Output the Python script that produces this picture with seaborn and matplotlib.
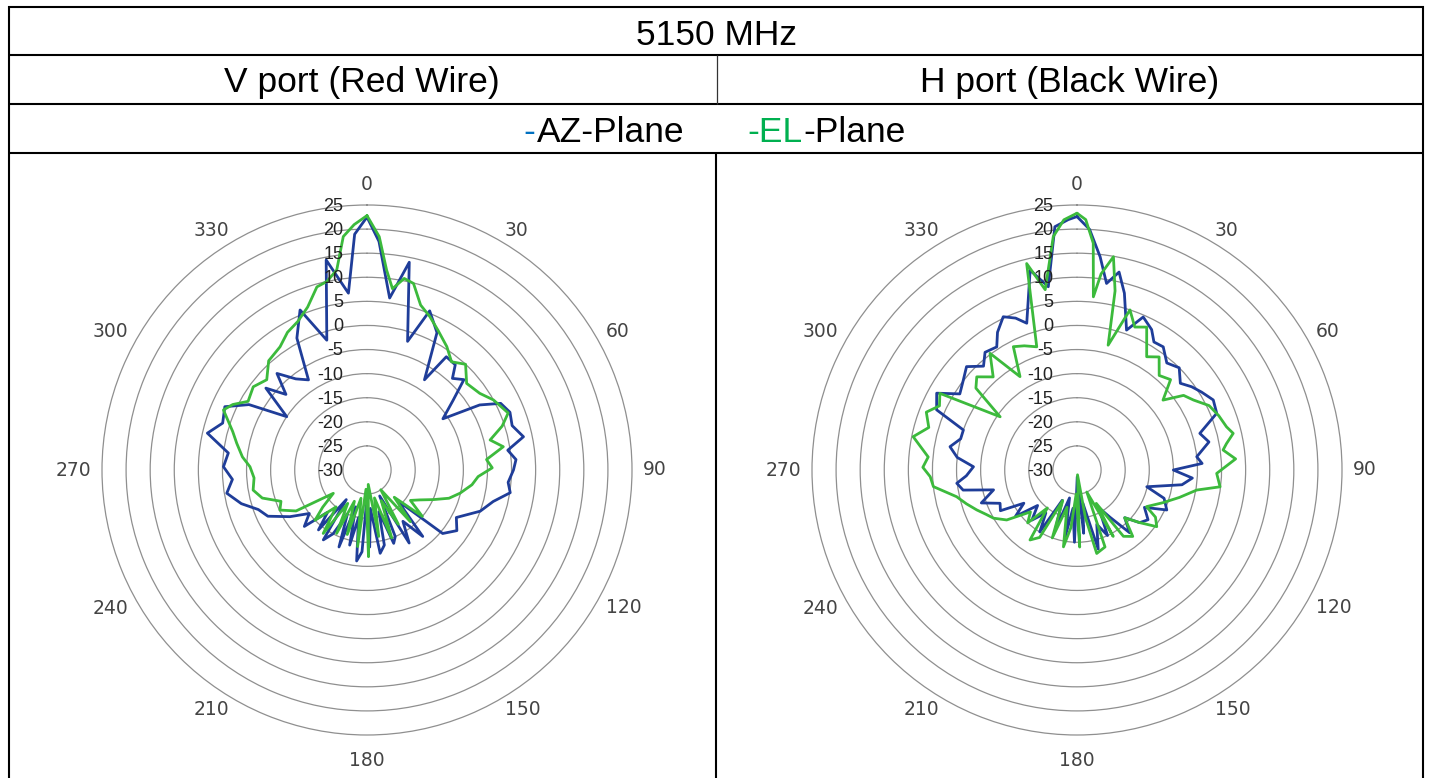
import numpy as np
import pandas as pd
import matplotlib
matplotlib.use("Agg")
import matplotlib.pyplot as plt
from matplotlib.lines import Line2D
import seaborn as sns

# ---------------- data ----------------
title = "5150 MHz"
col_titles = ["V port (Red Wire)", "H port (Black Wire)"]
ring_values = [-30, -25, -20, -15, -10, -5, 0, 5, 10, 15, 20, 25]
angle_labels = [0, 30, 60, 90, 120, 150, 180, 210, 240, 270, 300, 330]

# V port, AZ plane (blue)
v_az_ang = [0, 3, 7.5, 11.5, 17.5, 21.5, 27, 32.5, 35, 40, 43, 47, 51, 56, 60, 63.5, 68, 73, 78, 82,
            86, 90, 95, 99, 104, 110, 118, 124, 130, 135, 140, 145, 150, 154, 157, 160, 164, 167, 171,
            175, 178, 181, 183.5, 186.5, 190, 193, 197, 200, 204, 208, 212, 215, 219, 223, 228, 233,
            238.8, 245, 250, 255, 260.6, 266, 271.3, 277, 283, 288, 294, 299, 303.6, 309, 313, 317,
            322, 327, 332, 337.3, 342.8, 349, 354, 357]
v_az_db = [22.5, 17.5, 6, 14, -2, 5.5, 2, -7.8, -1.3, -1.5, -4, -2.5, -7, -11, -3, 1, 2, 1.5, 3.2, -0.5,
           1, 0.4, -0.6, 0.1, -3, -5, -9, -7.5, -9.5, -21, -12, -17, -12.5, -24, -15, -13.8, -21, -14,
           -12.5, -22, -14, -23, -13, -11, -20, -14, -22, -13, -20, -15, -12.9, -22.5, -14, -18, -12.5,
           -15, -11.3, -7.3, -6, -3, -0.5, -2, -0.2, -1, 4, 1.5, 2.3, -2, -10, -3, -7, -2.6, -6, -7.7,
           1, 6, -1.8, 14.4, 6.9, 19]

# V port, EL plane (green)
v_el_ang = [0, 3, 5.6, 8, 11, 14, 18, 22.3, 27, 32.9, 38, 43, 49, 55.8, 61, 68, 72, 76.3, 80.3, 85,
            89, 93.4, 98, 104, 109, 114, 119.5, 125, 130, 135, 140, 145, 150, 155, 160, 165, 170, 175,
            179, 183, 187, 192, 197, 202, 205.6, 210, 214.6, 220, 226, 230, 235.3, 240, 245.3, 250,
            255, 260, 266, 271.6, 276, 281.6, 286, 292.7, 296, 300, 306.2, 312, 318, 324.8, 330, 335,
            340, 344.7, 348, 351.4, 354.2, 357]
v_el_db = [22.8, 18.5, 11.7, 8, 10.5, 9.9, 6, 4.4, 2.5, 0.5, -1.5, 0, -2.6, -1.7, 0, 1.6, -0.5, -3.7,
           -1.3, -5.1, -4, -6.9, -8, -10.1, -12, -14.9, -17.4, -19, -15, -22, -16, -25, -17, -23, -15,
           -24, -16, -27, -12, -26, -14, -24, -16, -23, -15.4, -22, -14, -20, -15, -18, -21.5, -13,
           -10.1, -11, -7.5, -6, -6.5, -5.7, -4, -2.4, -1, 2.3, 1, -1.5, -0.75, -2, 0.5, 1.3, 3, 4, 6,
           9.4, 10, 12, 18.7, 21]

# H port, AZ plane (blue)
h_az_ang = [0, 3, 6.2, 9, 12, 15, 19.5, 23.4, 28, 31, 35, 40, 45, 50, 54, 58, 62.8, 67.9, 73.4, 78,
            83.7, 87, 90, 94, 98, 103.5, 108, 114, 119, 125, 130, 135, 140, 145, 150, 155, 160, 165,
            170, 174, 178, 182, 186, 190, 195, 200, 206, 211, 216, 222, 228, 233, 238, 242, 246.6,
            251, 256.6, 260, 263.7, 267, 271.8, 276, 280.4, 285, 289.4, 293.2, 298.7, 303, 308, 313.1,
            318, 322, 326.9, 330, 334.3, 338, 341.1, 346.8, 351.1, 354.8, 358]
h_az_db = [22.6, 20, 14.5, 9.2, 12, 8, 0.8, 4.6, 3, 1, 1.2, -1, 0, -2, -0.6, 0.5, 1.8, 1.3, -3.4, -2,
           -5, -4, -10, -6, -8, -15.1, -11, -9.6, -14, -12, -13, -16, -13, -18, -21, -15, -18, -13,
           -23, -16.8, -28.6, -15, -22, -16, -24, -17, -23, -15, -19, -16, -19, -14, -17, -12, -12.6,
           -9, -12.2, -6, -4.9, -7, -8.5, -5, -3.2, -5, -5, 1.7, 3.2, -1, 0, 1.4, -1, 1, 0.5, 3, 5.3,
           4, 2.2, 12.6, 8.5, 20.7, 22]

# H port, EL plane (green)
h_el_ang = [0, 2, 4.1, 5.4, 7, 9.7, 12, 14, 18.3, 22, 26, 31.6, 36, 41, 46, 50.9, 55, 59, 64, 69, 73.9,
            76.8, 80, 82.2, 86, 91.4, 96.7, 99.5, 105, 111, 117.8, 121, 125.4, 130, 135, 140, 145,
            150, 151.4, 156, 160, 166.7, 170, 174, 178, 182, 186, 190, 195, 200, 205, 209, 213.9, 218,
            223, 228, 234.6, 240, 244, 248.3, 253, 257.5, 263.4, 267.4, 271, 275, 281.5, 286, 291, 295,
            299.2, 304.7, 309, 312.9, 318, 323.3, 328.6, 332.7, 337, 341.9, 346.3, 350, 354.2, 357]
h_el_db = [23.3, 22, 17.2, 6.1, 11, 14.9, 8, -3.3, 5, 2, 3, -2.4, -1, -4, -3, -7, -3, -1.8, 0.5, 1.5,
           2.3, 3.3, 1.5, 0.6, 3, -1, -0.1, -4.8, -8, -11, -13.7, -11, -9.7, -13, -16, -12, -13.2, -22,
           -14.3, -25, -13, -12.2, -20, -29, -14, -25, -18, -13.8, -22, -15, -23, -14, -12.5, -20, -15,
           -17, -12.1, -10, -9, -7.6, -6, -4.4, 0, 0.5, 2, 1, 4.7, 2, 3.5, 1.5, 2.6, -10.6, -3, -1.6,
           -4, 0.2, -7.3, -1.2, -2, -3.1, 14.1, 8, 18.7, 22]

AZ_COLOR = "#1f3d99"
EL_COLOR = "#3cba3c"
LEG_BLUE = "#0070C0"
LEG_GREEN = "#00B050"

# ---------------- figure ----------------
sns.set_theme(style="white")
plt.rcParams["font.family"] = ["Liberation Sans", "DejaVu Sans"]

W, H = 1429, 778
fig = plt.figure(figsize=(W / 100, H / 100), dpi=100, facecolor="white")


def fx(x):
    return x / W


def fy(y):
    return 1 - y / H


def hline(y, x0, x1, lw=1.5, color="black"):
    fig.add_artist(Line2D([fx(x0), fx(x1)], [fy(y), fy(y)], transform=fig.transFigure,
                          color=color, lw=lw, solid_capstyle="butt"))


def vline(x, y0, y1, lw=1.5, color="black"):
    fig.add_artist(Line2D([fx(x), fx(x)], [fy(y0), fy(y1)], transform=fig.transFigure,
                          color=color, lw=lw, solid_capstyle="butt"))


# table frame
hline(6.5, 8, 1424)
hline(55, 8, 1424)
hline(104, 8, 1424)
hline(153, 8, 1424)
vline(9, 5.5, 778)
vline(1423, 5.5, 778)
vline(716.5, 55, 104, lw=0.9, color="#333333")
vline(715.5, 153, 778)

HFS = 25.5
fig.text(fx(717), fy(45), title, ha="center", va="baseline", fontsize=HFS, color="black")
fig.text(fx(362), fy(92), col_titles[0], ha="center", va="baseline", fontsize=HFS, color="black")
fig.text(fx(1070), fy(92), col_titles[1], ha="center", va="baseline", fontsize=HFS, color="black")


# legend row: coloured pieces placed one after another
def legend_group(x_left, pieces):
    prev = fig.text(fx(x_left), fy(141.5), pieces[0][0], ha="left", va="baseline",
                    fontsize=HFS, color=pieces[0][1])
    for txt, col in pieces[1:]:
        prev = plt.annotate(txt, xy=(1, 0), xycoords=prev, xytext=(1.2, 0),
                            textcoords="offset points", ha="left", va="bottom",
                            fontsize=HFS, color=col, annotation_clip=False)
    return prev


# polar panels
R_PX = 265
centers = [(367, 470), (1077, 470)]
series = [((v_az_ang, v_az_db), (v_el_ang, v_el_db)),
          ((h_az_ang, h_az_db), (h_el_ang, h_el_db))]

RMIN, RMAX = ring_values[0], ring_values[-1]
px_per_db = R_PX / (RMAX - RMIN)

for (cx, cy), ((a_ang, a_db), (e_ang, e_db)) in zip(centers, series):
    ax = fig.add_axes([fx(cx - R_PX), fy(cy + R_PX), 2 * R_PX / W, 2 * R_PX / H],
                      projection="polar")
    ax.set_facecolor("white")
    ax.set_theta_zero_location("N")
    ax.set_theta_direction(-1)

    frames = []
    for name, ang, db in (("AZ", a_ang, a_db), ("EL", e_ang, e_db)):
        ang_c = list(ang) + [ang[0] + 360]
        db_c = list(db) + [db[0]]
        frames.append(pd.DataFrame({"theta": np.deg2rad(ang_c), "gain": db_c,
                                    "plane": name}))
    df = pd.concat(frames, ignore_index=True)
    sns.lineplot(data=df, x="theta", y="gain", hue="plane", units="plane",
                 palette={"AZ": AZ_COLOR, "EL": EL_COLOR}, estimator=None, sort=False,
                 lw=2.0, ax=ax, legend=False)

    ax.set_ylim(RMIN, RMAX)
    ax.set_yticks(ring_values[1:-1])
    ax.set_yticklabels([])
    ax.set_xticks([])
    ax.xaxis.grid(False)
    ax.yaxis.grid(True, color="#8f8f8f", lw=0.9)
    ax.spines["polar"].set_color("#8f8f8f")
    ax.spines["polar"].set_linewidth(0.9)
    ax.set_xlabel("")
    ax.set_ylabel("")

    # radial ring labels (left of the 0 deg axis)
    for rv in ring_values:
        ax.annotate(str(rv), xy=(0, rv), xytext=(-17, -1), textcoords="offset points",
                    ha="right", va="center", fontsize=13, color="#222222",
                    annotation_clip=False)
    # angle labels, anchored on their box edge just outside the outer ring
    for a in angle_labels:
        s, c = np.sin(np.deg2rad(a)), np.cos(np.deg2rad(a))
        if abs(s) < 0.1:
            ha = "center"
            va = "bottom" if c > 0 else "top"
            extra = 11 if c > 0 else 16
        else:
            ha = "left" if s > 0 else "right"
            va = "center"
            extra = 11
        ax.text(np.deg2rad(a), RMAX + extra / px_per_db, str(a), ha=ha, va=va,
                fontsize=13.5, color="#444444", family=["DejaVu Sans"], clip_on=False)

legend_group(523, [("-", LEG_BLUE), ("AZ-Plane", "black")])
legend_group(747, [("-EL", LEG_GREEN), ("-Plane", "black")])

fig.savefig("out.png", dpi=100, facecolor="white")
